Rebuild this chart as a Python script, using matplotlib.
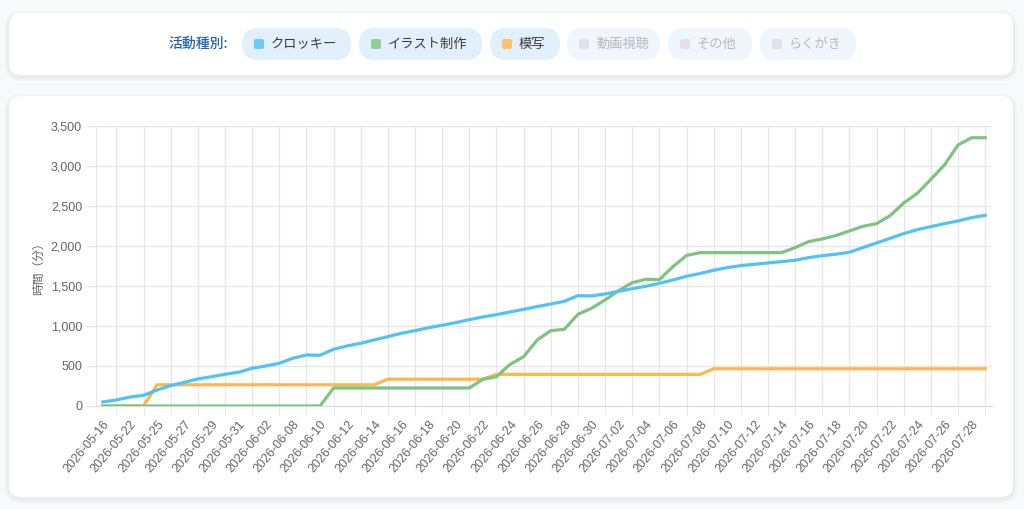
import matplotlib

matplotlib.use("Agg")
import matplotlib.pyplot as plt  # noqa: E402
from matplotlib.patches import FancyBboxPatch  # noqa: E402
from matplotlib.ticker import FuncFormatter, FixedLocator  # noqa: E402

plt.rcParams["font.family"] = ["Noto Sans CJK JP", "DejaVu Sans"]
LATIN = ["Liberation Sans", "DejaVu Sans"]

# categories: only days that have records (x axis is categorical)
DATES = [
    "05-16", "05-19", "05-22", "05-24", "05-25", "05-26", "05-27", "05-28",
    "05-29", "05-30", "05-31", "06-01", "06-02", "06-05", "06-08", "06-09",
    "06-10", "06-11", "06-12", "06-13", "06-14", "06-15", "06-16", "06-17",
    "06-18", "06-19", "06-20", "06-21", "06-22", "06-23", "06-24", "06-25",
    "06-26", "06-27", "06-28", "06-29", "06-30", "07-01", "07-02", "07-03",
    "07-04", "07-05", "07-06", "07-07", "07-08", "07-09", "07-10", "07-11",
    "07-12", "07-13", "07-14", "07-15", "07-16", "07-17", "07-18", "07-19",
    "07-20", "07-21", "07-22", "07-23", "07-24", "07-25", "07-26", "07-27",
    "07-28", "07-29",
]
LABELS = ["2026-" + d for d in DATES]

# cumulative minutes per activity
CROQUIS = [
    50, 75, 112, 133, 200, 254, 296, 337, 366, 396, 421, 471, 500, 533, 596, 637,
    633, 708, 750, 783, 825, 866, 908, 941, 978, 1008, 1041, 1078, 1112, 1141, 1174, 1207,
    1241, 1274, 1307, 1378, 1374, 1399, 1432, 1465, 1495, 1532, 1574, 1620, 1655, 1695, 1728, 1753,
    1770, 1786, 1803, 1820, 1853, 1877, 1895, 1920, 1978, 2036, 2094, 2153, 2202, 2240, 2277, 2311,
    2352, 2381,
]
ILLUST = [
    0, 0, 0, 0, 0, 0, 0, 0, 0, 0, 0, 0, 0, 0, 0, 0,
    0, 225, 225, 225, 225, 225, 225, 225, 225, 225, 225, 225, 333, 366, 520, 616,
    824, 941, 958, 1145, 1220, 1324, 1440, 1540, 1582, 1578, 1740, 1880, 1915, 1915, 1915, 1915,
    1915, 1915, 1915, 1978, 2053, 2086, 2128, 2186, 2244, 2277, 2377, 2535, 2656, 2831, 3010, 3260,
    3350, 3350,
]
MOSHA = [
    0, 0, 0, 0, 265, 265, 265, 265, 265, 265, 265, 265, 265, 265, 265, 265,
    265, 265, 265, 265, 265, 335, 335, 335, 335, 335, 335, 335, 335, 395, 395, 395,
    395, 395, 395, 395, 395, 395, 395, 395, 395, 395, 395, 395, 395, 465, 465, 465,
    465, 465, 465, 465, 465, 465, 465, 465, 465, 465, 465, 465, 465, 465, 465, 465,
    465, 465,
]

LEGEND_NAMES = ["クロッキー", "イラスト制作", "模写", "動画視聴", "その他", "らくがき"]
LEGEND_ACTIVE = [True, True, True, False, False, False]
LEGEND_COLORS = ["#66ccf9", "#8fcf93", "#ffc06a", "#e2e2e2", "#e2e2e2", "#e2e2e2"]
# pill geometry in pixels (left, width)
PILL_X = [242, 359, 490, 567, 668, 760]
PILL_W = [109, 123, 70, 93, 84, 96]

W, H = 1024, 509
GRID = "#e6e6e6"

fig = plt.figure(figsize=(W / 100, H / 100), dpi=100, facecolor="#f8f9fa")

# background layer in pixel coordinates
bg = fig.add_axes([0, 0, 1, 1], zorder=0)
bg.set_xlim(0, W)
bg.set_ylim(H, 0)
bg.axis("off")


def card(x0, y0, x1, y1, r=12):
    for k, a in [(4, 0.025), (2, 0.03)]:
        bg.add_patch(FancyBboxPatch((x0 - k, y0 - k + 2), x1 - x0 + 2 * k, y1 - y0 + 2 * k,
                                    boxstyle=f"round,pad=0,rounding_size={r + k}",
                                    fc="black", ec="none", alpha=a))
    bg.add_patch(FancyBboxPatch((x0, y0), x1 - x0, y1 - y0,
                                boxstyle=f"round,pad=0,rounding_size={r}",
                                fc="white", ec="none"))


card(9, 13, 1013, 75)
card(9, 96, 1013, 497)

bg.text(228, 44, "活動種別:", ha="right", va="center", fontsize=10,
        color="#2563a6", fontweight="medium")
for name, on, col, px, pw in zip(LEGEND_NAMES, LEGEND_ACTIVE, LEGEND_COLORS, PILL_X, PILL_W):
    bg.add_patch(FancyBboxPatch((px, 28), pw, 32, boxstyle="round,pad=0,rounding_size=16",
                                fc="#e2f0fd" if on else "#eff6fe", ec="none"))
    bg.add_patch(FancyBboxPatch((px + 12, 39), 10, 10, boxstyle="round,pad=0,rounding_size=2",
                                fc=col, ec="none"))
    bg.text(px + 29, 44.5, name, ha="left", va="center", fontsize=9.5,
            color="#3a3a3a" if on else "#b8b8b8")

bg.text(38, 266, "時間（分）", rotation=90, ha="center", va="center",
        fontsize=8.5, color="#666666")

# chart
ax = fig.add_axes([96 / W, 1 - 406 / H, (992 - 96) / W, (406 - 125.7) / H], zorder=1)
ax.set_facecolor("none")
xs = list(range(len(DATES)))
ax.plot(xs, MOSHA, color="#ffb74d", lw=2.3, zorder=3, solid_joinstyle="round")
ax.plot(xs, ILLUST, color="#7cc47f", lw=2.3, zorder=4, solid_joinstyle="round")
ax.plot(xs, CROQUIS, color="#4fc3f7", lw=2.3, zorder=5, solid_joinstyle="round")

ax.set_xlim(-0.5, len(DATES) - 0.5)
ax.set_ylim(0, 3500)
ax.yaxis.set_major_locator(FixedLocator(range(0, 3501, 500)))
ax.yaxis.set_major_formatter(FuncFormatter(lambda v, _: f"{int(v):,}"))
ax.tick_params(axis="y", length=7, color=GRID, labelsize=9, labelcolor="#666666", pad=3)
for t in ax.get_yticklabels():
    t.set_family(LATIN)

# labels on every other category, grid lines between them
ax.set_xticks(xs[::2])
ax.set_xticklabels(LABELS[::2], rotation=50, ha="right", rotation_mode="anchor",
                   fontsize=9, color="#666666", family=LATIN)
ax.set_xticks(xs[1::2], minor=True)
ax.tick_params(axis="x", which="major", length=0, pad=9)
ax.tick_params(axis="x", which="minor", length=7, color=GRID)
ax.grid(True, axis="y", color=GRID, lw=0.9, zorder=0)
ax.grid(True, axis="x", which="minor", color=GRID, lw=0.9, zorder=0)
ax.set_axisbelow(True)

for s in ["top", "right"]:
    ax.spines[s].set_visible(False)
ax.spines["left"].set_color(GRID)
ax.spines["bottom"].set_color("#d9d9d9")

fig.savefig("out.png", dpi=100, facecolor=fig.get_facecolor())
